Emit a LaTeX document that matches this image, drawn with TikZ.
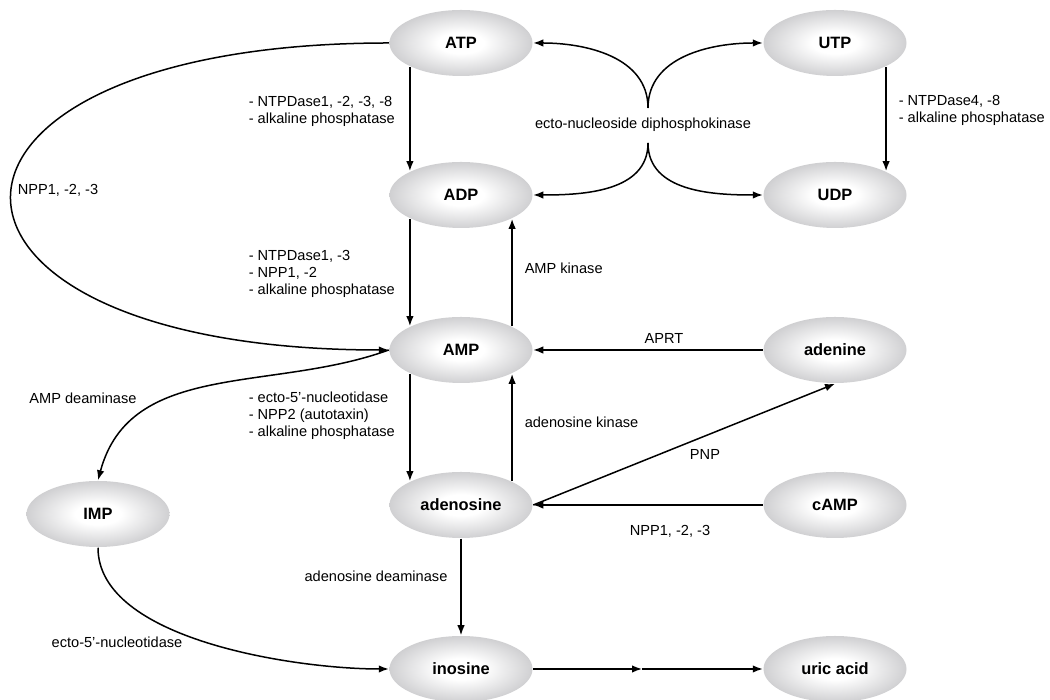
\documentclass[tikz,border=0pt]{standalone}
\usepackage{fontspec}
\setmainfont{Liberation Sans}
\usetikzlibrary{shapes.geometric,arrows.meta}

\definecolor{metgrey}{RGB}{166,166,170}
\pgfdeclareradialshading{metshade}{\pgfpoint{0bp}{0bp}}{color(0bp)=(white); color(8bp)=(white); color(40bp)=(metgrey); color(50bp)=(metgrey)}

\begin{document}
\begin{tikzpicture}[x=1pt,y=1pt,line width=1.5pt,>={Latex[length=10pt,width=7.5pt]},
  metab/.style={ellipse,minimum width=143pt,minimum height=66pt,inner sep=0pt,shading=metshade,font=\fontsize{16.4}{18}\selectfont\bfseries},
  enz/.style={inner sep=0pt,align=left,font=\fontsize{14.6}{17}\selectfont}]
        \useasboundingbox (0,0) rectangle (1050,700);

        \pgfmathsetmacro{\xl}{461}
        \pgfmathsetmacro{\xr}{835}

        \node[metab] (ATP) at (\xl,657) {ATP};
        \node[metab] (ADP) at (\xl,505) {ADP};
        \node[metab] (AMP) at (\xl,350) {AMP};
        \node[metab] (adenosine) at (\xl,195) {adenosine};
        \node[metab] (inosine) at (\xl,31) {inosine};

        \node[metab] (UTP) at (\xr,657) {UTP};
        \node[metab] (UDP) at (\xr,505) {UDP};
        \node[metab] (adenine) at (\xr,350) {adenine};
        \node[metab] (cAMP) at (\xr,195) {cAMP};
        \node[metab] (uric) at (\xr,31) {uric acid};

        \node[metab] (IMP) at (98,186) {IMP};

        % straight steps
        \draw[->] (ATP.south west) -- (ADP.north west);
        \draw[->] (ADP.south west) -- (AMP.north west);
        \draw[->] (AMP.north east) -- (ADP.south east);
        \draw[->] (AMP.south west) -- (adenosine.north west);
        \draw[->] (adenosine.north east) -- (AMP.south east);
        \draw[->] (adenosine.south) -- (inosine.north);
        \draw[->] (UTP.south east) -- (UDP.north east);
        \draw[->] (adenine.west) -- (AMP.east);
        \draw[->] (cAMP.west) -- (adenosine.east);
        \draw[->] (adenosine.east) -- (adenine.south);

        \coordinate (hx) at (642,31);
        \draw[->] (inosine.east) -- (hx);
        \draw[->] (hx) -- (uric.west);

        % curved ones
        \draw[->] (ATP.west) to[out=180,in=180,looseness=4.2] (AMP.west);
        \draw[->] (AMP.west) to[out=200,in=75] (IMP.north);
        \draw[->] (IMP.south) to[out=-90,in=180,looseness=0.75] (inosine.west);

        \coordinate (ndk1) at (648,592);
        \coordinate (ndk2) at (648,557);
        \draw[->] (ndk1) to[out=90,in=0] (ATP.east);
        \draw[->] (ndk1) to[out=90,in=180] (UTP.west);
        \draw[->] (ndk2) to[out=-90,in=0] (ADP.east);
        \draw[->] (ndk2) to[out=-90,in=180] (UDP.west);

        \node[enz] (ndk) at (643,575) {ecto-nucleoside diphosphokinase};
        \node[enz,anchor=west] (ntpd1) at (248,588.5) {- NTPDase1, -2, -3, -8\\- alkaline phosphatase};
        \node[enz,anchor=west] (ntpd2) at (248,426.5) {- NTPDase1, -3\\- NPP1, -2\\- alkaline phosphatase};
        \node[enz,anchor=west] (ecto1) at (248,284) {- ecto-5'-nucleotidase\\- NPP2 (autotaxin)\\- alkaline phosphatase};
        \node[enz,anchor=west] (ntpd4) at (898,589.5) {- NTPDase4, -8\\- alkaline phosphatase};
        \node[enz,anchor=west] (ampk) at (524,432) {AMP kinase};
        \node[enz,anchor=west] (adok) at (524,278) {adenosine kinase};
        \node[enz] (aprt) at (664,362) {APRT};
        \node[enz] (pnp) at (705,246) {PNP};
        \node[enz] (npp2) at (670,169) {NPP1, -2, -3};
        \node[enz] (npp1) at (58,510) {NPP1, -2, -3};
        \node[enz] (ampd) at (83,302) {AMP deaminase};
        \node[enz] (ado) at (376,124) {adenosine deaminase};
        \node[enz] (ecto2) at (117,58) {ecto-5'-nucleotidase};
      \end{tikzpicture}
\end{document}
